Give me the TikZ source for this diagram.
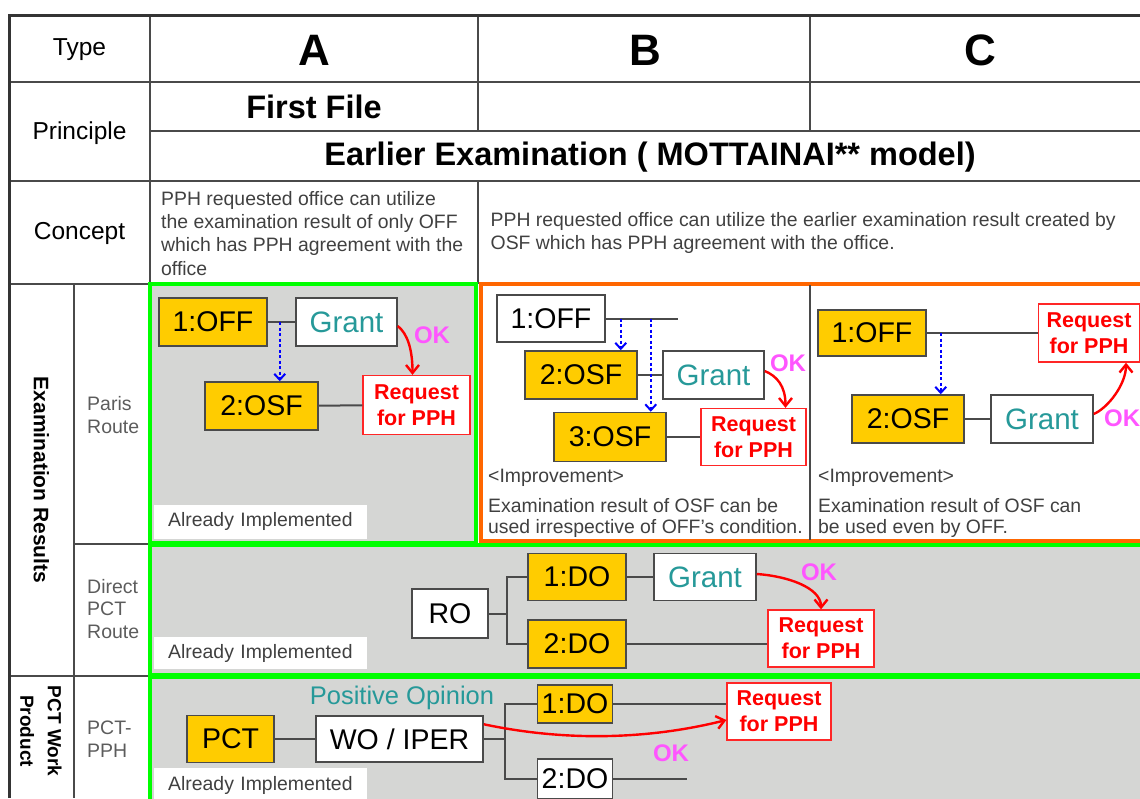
\documentclass[tikz,border=0pt]{standalone}
\usepackage{fontspec}
\setmainfont{Liberation Sans}
\usetikzlibrary{arrows.meta,positioning}
\definecolor{offyellow}{HTML}{FFCC00}
\definecolor{cellgray}{HTML}{D5D6D4}
\definecolor{linegray}{HTML}{4A4A4A}
\definecolor{grantteal}{HTML}{269999}
\definecolor{okpink}{HTML}{FF55FF}
\definecolor{implgreen}{HTML}{00FF00}
\definecolor{imprvorange}{HTML}{FF6600}
\definecolor{txtgray}{HTML}{404040}
\definecolor{routegray}{HTML}{5C5C5C}
\newcommand\fsz[2]{\fontsize{#1}{#2}\selectfont}

\begin{document}
\begin{tikzpicture}[x=1pt,y=1pt,
    grid/.style={draw=linegray,line width=1.6pt},
    office/.style={draw=linegray,line width=1.5pt,fill=offyellow,inner sep=0pt,minimum height=48pt,font=\fsz{28.5}{30}},
    plain/.style={office,fill=white},
    grant/.style={plain,text=grantteal,minimum width=101pt,font=\fsz{29.5}{30}},
    request/.style={draw=red!85,line width=1.3pt,fill=white,text=red,inner sep=0pt,minimum height=57pt,align=center,font=\bfseries\fsz{21.5}{26}},
    okay/.style={text=okpink,inner sep=0pt,font=\bfseries\fsz{24}{26}},
    link/.style={draw=linegray,line width=2pt},
    fwd/.style={draw=blue,line width=2pt,dash pattern=on 3pt off 2.5pt,-{Straight Barb[length=6pt,width=11pt]}},
    pph/.style={draw=red,line width=2.4pt,-{Straight Barb[length=8pt,width=13pt]}},
    zone/.style={fill=cellgray,draw=implgreen,line width=3.5pt},
    done/.style={fill=white,anchor=west,inner xsep=14pt,text width=185pt,minimum height=34pt,text=txtgray,font=\fsz{19.4}{23}},
    note/.style={text=txtgray,anchor=west,align=left,inner sep=0pt,font=\fsz{19.4}{23.3}},
    route/.style={text=routegray,anchor=west,align=left,inner sep=0pt,font=\fsz{19.5}{22.5}},
    head/.style={font=\fsz{24.5}{26}},
    col/.style={font=\bfseries\fsz{44}{44}}]
    \useasboundingbox (0,0) rectangle (1140,-798);
    \clip (0,0) rectangle (1140,-798);
    \draw[grid] (150,-16) -- (150,-798);
    \draw[grid] (9,-82) -- (1140,-82);
    \draw[grid] (150,-131) -- (1140,-131);
    \draw[grid] (9,-181) -- (1140,-181);
    \draw[grid] (9,-284) -- (150,-284);
    \draw[grid] (74,-544) -- (150,-544);
    \draw[grid] (9,-676) -- (150,-676);
    \draw[grid] (478,-16) -- (478,-131) (478,-181) -- (478,-284);
    \draw[grid] (810,-16) -- (810,-131);
    \draw[grid] (74,-284) -- (74,-798);
    \filldraw[zone] (150,-284) rectangle (476,-543);
    \filldraw[fill=white,draw=imprvorange,line width=3.5pt] (481,-284) rectangle (1150,-541);
    \draw[grid] (810,-285) -- (810,-540);
    \filldraw[zone] (150,-545) rectangle (1150,-675);
    \filldraw[zone] (150,-677) rectangle (1150,-810);
    \draw[linegray!70!black,line width=3pt] (9,-798) -- (9,-15.5) -- (1140,-15.5);

    \node[head] (type) at (79.5,-50) {Type};
    \node[col] (colA) at (314,-50) {A};
    \node[col] (colB) at (645,-50) {B};
    \node[col] (colC) at (980,-50) {C};
    \node[head] (principle) at (79.5,-133) {Principle};
    \node[font=\bfseries\fsz{32.5}{34}] (first) at (314,-107) {First File};
    \node[font=\bfseries\fsz{32.5}{34}] (earlier) at (650,-157) {Earlier Examination ( MOTTAINAI** model)};
    \node[head] (concept) at (79.5,-233) {Concept};
    \node[note] (conceptA) at (161,-233.3) {PPH requested office can utilize\\the examination result of only OFF\\which has PPH agreement with the\\office};
    \node[note] (conceptB) at (490.5,-233.3) {PPH requested office can utilize the earlier examination result created by\\OSF which has PPH agreement with the office.};
    \node[rotate=-90,font=\bfseries\fsz{21}{26}] (exres) at (41.5,-480) {Examination Results};
    \node[rotate=-90,align=center,font=\bfseries\fsz{19}{27.5}] (pctwp) at (41,-731) {PCT Work\\Product};
    \node[route] (paris) at (87,-415) {Paris\\Route};
    \node[route] (direct) at (87,-609) {Direct\\PCT\\Route};
    \node[route] (pctpph) at (87,-739) {PCT-\\PPH};

    \node[office,minimum width=108pt] (offA) at (213,-322) {1:OFF};
    \node[grant] (grantA) at (346.5,-322) {Grant};
    \node[office,minimum width=113pt] (osfA) at (261.5,-406) {2:OSF};
    \node[request,minimum width=107pt,minimum height=59pt] (reqA) at (416.5,-405) {Request\\for PPH};
    \node[okay] (okA) at (432,-335) {OK};
    \node[done] (doneA) at (154,-521.5) {Already Implemented};
    \draw[link] (offA) -- (grantA);
    \draw[link] (osfA) -- (reqA);
    \draw[fwd] ([xshift=12pt]offA.east) -- ([xshift=12pt]offA.east |- osfA.north);
    \draw[pph] ([yshift=-4pt]grantA.east) .. controls +(10,-8) and +(0,25) .. ([xshift=-4pt]reqA.north);

    \node[plain,minimum width=108pt,minimum height=47pt] (offB) at (551,-318.5) {1:OFF};
    \coordinate (stubB) at (678,-318.5);
    \node[office,minimum width=112pt] (osfB2) at (581,-375) {2:OSF};
    \node[grant] (grantB) at (713.5,-375) {Grant};
    \node[office,minimum width=112pt,minimum height=49pt] (osfB3) at (610,-437) {3:OSF};
    \node[request,minimum width=105pt] (reqB) at (753.5,-437) {Request\\for PPH};
    \node[okay] (okB) at (788,-363.5) {OK};
    \draw[link] (offB) -- (stubB);
    \draw[link] (osfB2) -- (grantB);
    \draw[link] (osfB3) -- (reqB);
    \draw[fwd] ([xshift=15pt]offB.east) -- ([xshift=15pt]offB.east |- osfB2.north);
    \draw[fwd] ([xshift=45pt]offB.east) -- ([xshift=45pt]offB.east |- osfB3.north);
    \draw[pph] ([yshift=4pt]grantB.east) .. controls +(12,-5) and +(0,22) .. ([xshift=32pt]reqB.north);
    \node[note] (imprB) at (488,-478) {<Improvement>};
    \node[note,font=\fsz{19.4}{20.7}] (resB) at (488,-518) {Examination result of OSF can be\\used irrespective of OFF's condition.};

    \node[office,minimum width=108pt,minimum height=46pt] (offC) at (872,-333) {1:OFF};
    \node[request,minimum width=101pt,minimum height=58pt] (reqC) at (1089,-333) {Request\\for PPH};
    \node[office,minimum width=112pt] (osfC) at (908,-419) {2:OSF};
    \node[grant,minimum width=102pt] (grantC) at (1042,-419) {Grant};
    \node[okay,anchor=west] (okC) at (1104,-418) {OK};
    \draw[link] (offC) -- (reqC);
    \draw[link] (osfC) -- (grantC);
    \draw[fwd] ([xshift=14pt]offC.east) -- ([xshift=14pt]offC.east |- osfC.north);
    \draw[pph] ([yshift=5pt]grantC.east) .. controls +(14,6) and +(0,-22) .. ([xshift=37pt]reqC.south);
    \node[note] (imprC) at (818,-478) {<Improvement>};
    \node[note,font=\fsz{19.4}{20.7}] (resC) at (818,-518) {Examination result of OSF can\\be used even by OFF.};

    \node[plain,minimum width=76pt,minimum height=49pt] (ro) at (450,-613.5) {RO};
    \node[office,minimum width=98pt,minimum height=47pt] (doD1) at (577,-577) {1:DO};
    \node[office,minimum width=98pt] (doD2) at (577,-644) {2:DO};
    \node[grant,minimum width=102pt,minimum height=47pt] (grantD) at (705,-577) {Grant};
    \node[request,minimum width=106pt] (reqD) at (821,-638.5) {Request\\for PPH};
    \node[okay] (okD) at (819,-572) {OK};
    \node[done,minimum height=32pt] (doneD) at (154,-653) {Already Implemented};
    \coordinate (forkD) at (507,-613.5);
    \draw[link] (ro) -- (forkD);
    \draw[link] (doD1.west) -| (forkD) |- (doD2.west);
    \draw[link] (doD1) -- (grantD);
    \draw[link] (doD2.east) -- (doD2.east -| reqD.west);
    \draw[pph] ([yshift=3pt]grantD.east) .. controls +(30,-2) and +(0,22) .. (reqD.north);

    \node[office,minimum width=87pt,minimum height=47pt] (pct) at (230.5,-739) {PCT};
    \node[plain,minimum width=167pt,minimum height=46pt] (wo) at (399.5,-739) {WO / IPER};
    \node[text=grantteal,font=\fsz{25.5}{27}] (posop) at (402,-698) {Positive Opinion};
    \node[office,minimum width=75pt,minimum height=38pt] (doP1) at (575,-704) {1:DO};
    \node[plain,minimum width=75pt,minimum height=40pt] (doP2) at (575,-779) {2:DO};
    \node[request,minimum width=104pt] (reqP) at (779,-711.5) {Request\\for PPH};
    \node[okay] (okP) at (671,-753) {OK};
    \node[done] (doneP) at (154,-785) {Already Implemented};
    \coordinate (forkP) at (505,-739);
    \coordinate (stubP) at (687,-779);
    \draw[link] (pct) -- (wo);
    \draw[link] (wo) -- (forkP);
    \draw[link] (doP1.west) -| (forkP) |- (doP2.west);
    \draw[link] (doP1.east) -- (doP1.east -| reqP.west);
    \draw[link] (doP2) -- (stubP);
    \draw[pph] ([yshift=-9pt]wo.north east) .. controls +(80,-17) and +(-80,-20) .. ([yshift=-8.5pt]reqP.west);
\end{tikzpicture}
\end{document}
